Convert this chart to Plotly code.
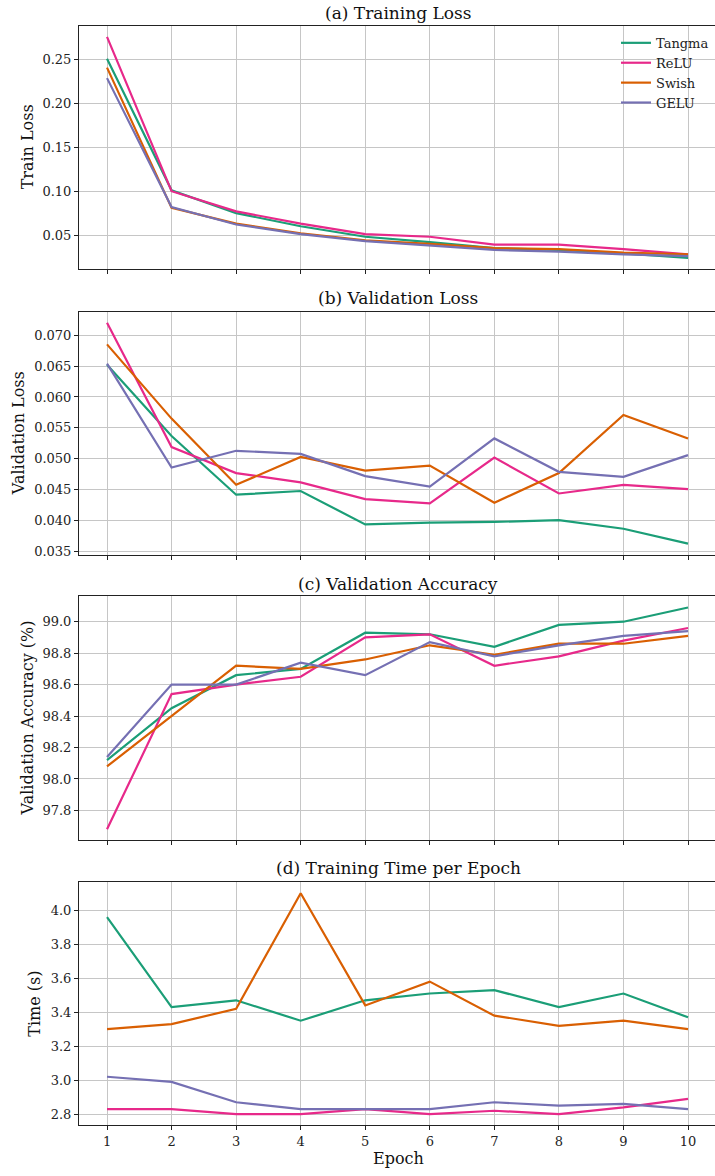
import plotly.graph_objects as go

epochs = [1, 2, 3, 4, 5, 6, 7, 8, 9, 10]
series_names = ["Tangma", "ReLU", "Swish", "GELU"]
colors = ["#1b9e77", "#e7298a", "#d95f02", "#7570b3"]

train_loss_tangma = [0.251, 0.101, 0.075, 0.060, 0.048, 0.042, 0.035, 0.033, 0.029, 0.024]
train_loss_relu = [0.276, 0.100, 0.077, 0.063, 0.051, 0.048, 0.039, 0.039, 0.034, 0.028]
train_loss_swish = [0.241, 0.081, 0.063, 0.052, 0.044, 0.040, 0.035, 0.034, 0.030, 0.028]
train_loss_gelu = [0.229, 0.082, 0.062, 0.051, 0.043, 0.038, 0.033, 0.031, 0.028, 0.026]

val_loss_tangma = [0.0652, 0.0537, 0.0442, 0.0448, 0.0394, 0.0397, 0.0398, 0.0401, 0.0387, 0.0363]
val_loss_relu = [0.0720, 0.0519, 0.0477, 0.0462, 0.0435, 0.0428, 0.0502, 0.0444, 0.0458, 0.0451]
val_loss_swish = [0.0685, 0.0565, 0.0458, 0.0503, 0.0481, 0.0489, 0.0429, 0.0477, 0.0571, 0.0533]
val_loss_gelu = [0.0654, 0.0486, 0.0513, 0.0508, 0.0472, 0.0455, 0.0533, 0.0479, 0.0471, 0.0506]

val_acc_tangma = [98.12, 98.45, 98.66, 98.70, 98.93, 98.92, 98.84, 98.98, 99.00, 99.09]
val_acc_relu = [97.68, 98.54, 98.60, 98.65, 98.90, 98.92, 98.72, 98.78, 98.88, 98.96]
val_acc_swish = [98.08, 98.40, 98.72, 98.70, 98.76, 98.85, 98.79, 98.86, 98.86, 98.91]
val_acc_gelu = [98.14, 98.60, 98.60, 98.74, 98.66, 98.87, 98.78, 98.85, 98.91, 98.94]

time_tangma = [3.96, 3.43, 3.47, 3.35, 3.47, 3.51, 3.53, 3.43, 3.51, 3.37]
time_relu = [2.83, 2.83, 2.80, 2.80, 2.83, 2.80, 2.82, 2.80, 2.84, 2.89]
time_swish = [3.30, 3.33, 3.42, 4.10, 3.44, 3.58, 3.38, 3.32, 3.35, 3.30]
time_gelu = [3.02, 2.99, 2.87, 2.83, 2.83, 2.83, 2.87, 2.85, 2.86, 2.83]

panel_titles = ["(a) Training Loss", "(b) Validation Loss", "(c) Validation Accuracy", "(d) Training Time per Epoch"]
y_labels = ["Train Loss", "Validation Loss", "Validation Accuracy (%)", "Time (s)"]
x_label = "Epoch"

y_ticks_a = [0.05, 0.10, 0.15, 0.20, 0.25]
y_ticks_b = [0.035, 0.040, 0.045, 0.050, 0.055, 0.060, 0.065, 0.070]
y_ticks_c = [97.8, 98.0, 98.2, 98.4, 98.6, 98.8, 99.0]
y_ticks_d = [2.8, 3.0, 3.2, 3.4, 3.6, 3.8, 4.0]

panels = [
    ([train_loss_tangma, train_loss_relu, train_loss_swish, train_loss_gelu], y_ticks_a, ".2f"),
    ([val_loss_tangma, val_loss_relu, val_loss_swish, val_loss_gelu], y_ticks_b, ".3f"),
    ([val_acc_tangma, val_acc_relu, val_acc_swish, val_acc_gelu], y_ticks_c, ".1f"),
    ([time_tangma, time_relu, time_swish, time_gelu], y_ticks_d, ".1f"),
]

W, H = 715, 1176
FONT = "DejaVu Serif, serif"
# pixel layout
x_left_px = 79
panel_px = [(26, 270), (313, 557), (599, 844), (886, 1130)]
title_y_px = [13, 299, 586, 872]
ylabel_x_px = [27, 18, 27, 35]
x_range = [0.566, 10.418]

fig = go.Figure()
layout = dict(
    width=W, height=H,
    margin=dict(l=0, r=0, t=0, b=0),
    paper_bgcolor="white", plot_bgcolor="white",
    font=dict(family=FONT, size=13, color="#222"),
    showlegend=True,
)
annotations = []
grid_color = "#c6c6c6"

for i, (vals, ticks, fmt) in enumerate(panels):
    n = i + 1
    xa = "x" if n == 1 else f"x{n}"
    ya = "y" if n == 1 else f"y{n}"
    for j, s in enumerate(vals):
        fig.add_trace(go.Scatter(
            x=epochs, y=s, mode="lines", name=series_names[j],
            line=dict(color=colors[j], width=2.2),
            xaxis=xa, yaxis=ya, showlegend=(n == 1),
        ))
    allv = [v for s in vals for v in s]
    lo, hi = min(allv), max(allv)
    pad = 0.05 * (hi - lo)
    top, bot = panel_px[i]
    layout["xaxis" + ("" if n == 1 else str(n))] = dict(
        domain=[x_left_px / W, 1.0], range=x_range, anchor=ya,
        tickvals=epochs, ticktext=[str(e) for e in epochs] if n == 4 else [""] * 10,
        showgrid=True, gridcolor=grid_color, gridwidth=1,
        showline=True, linecolor="#222", linewidth=1, mirror=True,
        ticks="outside", ticklen=4, tickcolor="#222",
        tickfont=dict(family=FONT, size=13, color="#222"),
        zeroline=False, fixedrange=True,
    )
    layout["yaxis" + ("" if n == 1 else str(n))] = dict(
        domain=[1 - bot / H, 1 - top / H], range=[lo - pad, hi + pad], anchor=xa,
        tickvals=ticks, ticktext=[format(t, fmt) for t in ticks],
        showgrid=True, gridcolor=grid_color, gridwidth=1,
        showline=True, linecolor="#222", linewidth=1,
        ticks="outside", ticklen=4, tickcolor="#222",
        tickfont=dict(family=FONT, size=13, color="#222"),
        zeroline=False, fixedrange=True,
    )
    annotations.append(dict(
        text=panel_titles[i], x=(x_left_px + 717) / 2 / W, y=1 - title_y_px[i] / H,
        xref="paper", yref="paper", xanchor="center", yanchor="middle",
        showarrow=False, font=dict(family=FONT, size=17, color="#111"),
    ))
    annotations.append(dict(
        text=y_labels[i], x=ylabel_x_px[i] / W, y=1 - (top + bot) / 2 / H,
        xref="paper", yref="paper", xanchor="center", yanchor="middle",
        textangle=-90, showarrow=False, font=dict(family=FONT, size=16, color="#111"),
    ))

annotations.append(dict(
    text=x_label, x=(x_left_px + 717) / 2 / W, y=1 - 1163 / H,
    xref="paper", yref="paper", xanchor="center", yanchor="middle",
    showarrow=False, font=dict(family=FONT, size=16, color="#111"),
))

layout["annotations"] = annotations
layout["legend"] = dict(
    x=616 / W, y=1 - 28 / H, xanchor="left", yanchor="top",
    bgcolor="rgba(255,255,255,0)", borderwidth=0,
    font=dict(family=FONT, size=13, color="#222"),
    tracegroupgap=0, itemwidth=30,
)
fig.update_layout(**layout)
fig.write_html(
    "out.html",
    config={"displayModeBar": False},
    post_script="document.body.style.margin='0';document.body.style.padding='0';document.body.style.overflow='hidden';",
)
